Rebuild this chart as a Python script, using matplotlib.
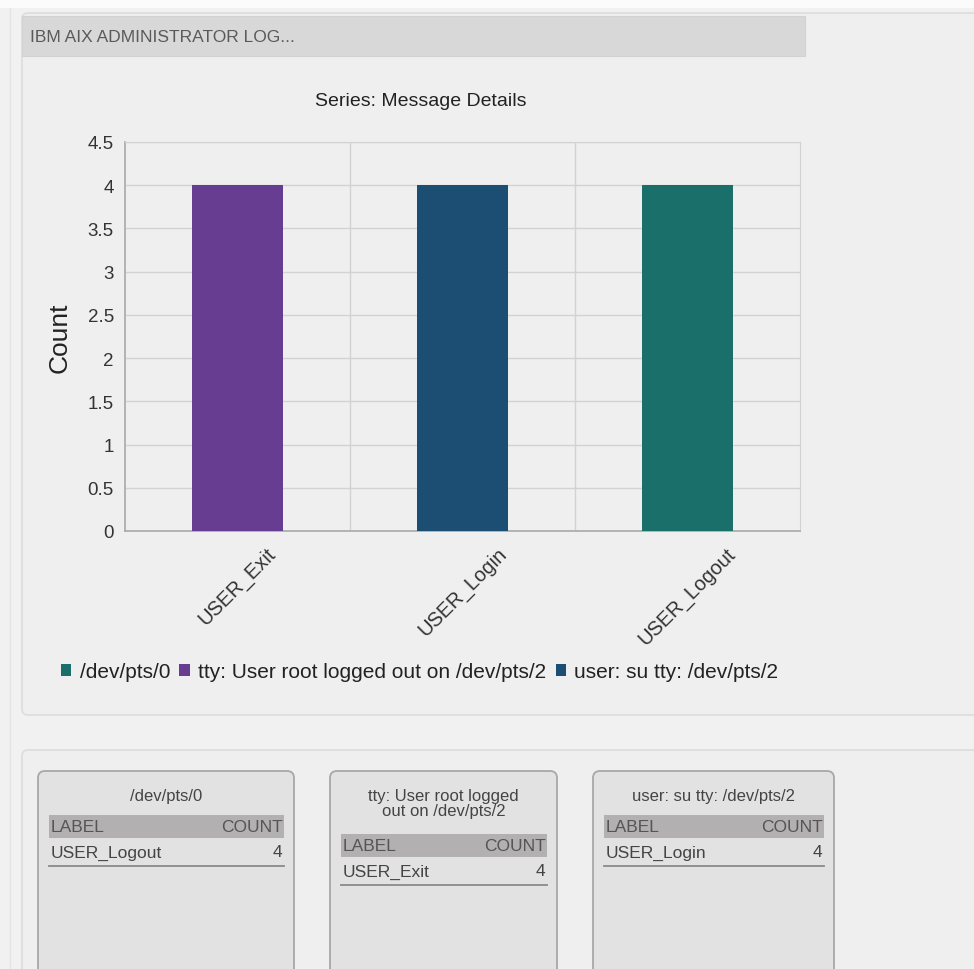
import matplotlib
matplotlib.use("Agg")
import matplotlib.pyplot as plt
from matplotlib.patches import FancyBboxPatch, Rectangle
from matplotlib.lines import Line2D

plt.rcParams["font.family"] = ["Liberation Sans", "DejaVu Sans"]

# ---- data -------------------------------------------------------------
categories = ["USER_Exit", "USER_Login", "USER_Logout"]
counts = [4, 4, 4]
series_names = ["/dev/pts/0",
                "tty: User root logged out on /dev/pts/2",
                "user: su tty: /dev/pts/2"]
series_colors = ["#1b6f6b", "#673d91", "#1c4e74"]
category_series = [1, 2, 0]          # series index of each category
y_ticks = [0, 0.5, 1, 1.5, 2, 2.5, 3, 3.5, 4, 4.5]
y_tick_labels = ["0", "0.5", "1", "1.5", "2", "2.5", "3", "3.5", "4", "4.5"]
card_titles = ["/dev/pts/0",
               "tty: User root logged\nout on /dev/pts/2",
               "user: su tty: /dev/pts/2"]
panel_title = "IBM AIX ADMINISTRATOR LOG..."
chart_title = "Series: Message Details"

W, H = 974, 970
fig = plt.figure(figsize=(W / 100, H / 100), dpi=100)
fig.patch.set_facecolor("#f1f1f1")

# ---- page decoration (pixel coordinates) ------------------------------
bg = fig.add_axes([0, 0, 1, 1], zorder=0)
bg.set_xlim(0, W)
bg.set_ylim(H, 0)
bg.axis("off")

bg.add_patch(Rectangle((0, 0), W, 9, facecolor="#fbfbfb", edgecolor="none"))
bg.add_line(Line2D([10, 10], [9, H], color="#e4e4e4", lw=1))
# upper panel
bg.add_patch(FancyBboxPatch((22, 14), W, 702, boxstyle="round,pad=0,rounding_size=6",
                            facecolor="#efefef", edgecolor="#dcdcdc", lw=1.2))
bg.add_patch(Rectangle((22, 17), 783, 40, facecolor="#d8d8d8", edgecolor="#d2d2d2", lw=0.8))
bg.text(30, 38, panel_title, fontsize=12.5, color="#5a5a5a", va="center", ha="left")
# lower panel
bg.add_patch(FancyBboxPatch((22, 751), W, 300, boxstyle="round,pad=0,rounding_size=6",
                            facecolor="#efefef", edgecolor="#dcdcdc", lw=1.2))

# ---- bar chart ---------------------------------------------------------
ax_l, ax_r, ax_t, ax_b = 125, 800, 143, 532
ax = fig.add_axes([ax_l / W, (H - ax_b) / H, (ax_r - ax_l) / W, (ax_b - ax_t) / H], zorder=2)
ax.set_facecolor("none")
x = list(range(len(categories)))
for i, val in enumerate(counts):
    ax.bar(i, val, width=0.405, color=series_colors[category_series[i]], zorder=3)
ax.set_xlim(-0.5, len(categories) - 0.5)
ax.set_ylim(0, 4.5)
ax.set_yticks(y_ticks)
ax.set_yticklabels(y_tick_labels)
ax.set_axisbelow(True)
ax.grid(axis="y", color="#d2d2d2", lw=1)
for b in [i + 0.5 for i in range(len(categories) - 1)]:
    ax.axvline(b, color="#d2d2d2", lw=1, zorder=1)
for side in ["top", "right"]:
    ax.spines[side].set_color("#d2d2d2")
for side in ["left", "bottom"]:
    ax.spines[side].set_color("#a9a9a9")
    ax.spines[side].set_linewidth(1.2)
ax.tick_params(axis="both", length=0, labelcolor="#333333")
ax.tick_params(axis="y", pad=8, labelsize=13.5)
ax.tick_params(axis="x", pad=9, labelsize=14.5)
ax.set_xticks(x)
ax.set_xticklabels(categories, rotation=45, ha="center", va="top")
ax.set_ylabel("Count", fontsize=19, color="#222222")
ax.yaxis.set_label_coords((72 - ax_l) / (ax_r - ax_l), 0.5)

fig.text(421 / W, (H - 102) / H, chart_title, fontsize=14, color="#222222",
         ha="center", va="center")

# legend
handles = [Rectangle((0, 0), 1, 1, facecolor=c, edgecolor="none") for c in series_colors]
fig.legend(handles, series_names, loc="center left", ncol=3, frameon=False,
           bbox_to_anchor=(42 / W, (H - 673) / H), fontsize=15,
           handlelength=0.5, handleheight=0.5, handletextpad=0.4,
           columnspacing=0.45, labelcolor="#222222")

# ---- summary cards -----------------------------------------------------
cards_x = [(38, 294), (330, 557), (593, 834)]
for (x0, x1), title, s in zip(cards_x, card_titles, range(len(series_names))):
    bg.add_patch(FancyBboxPatch((x0, 772), x1 - x0, 260,
                                boxstyle="round,pad=0,rounding_size=7",
                                facecolor="#e2e2e2", edgecolor="#a8a8a8", lw=1.3))
    n_lines = title.count("\n") + 1
    bg.text((x0 + x1) / 2, 789, title, fontsize=12, color="#444444",
            ha="center", va="top", linespacing=1.0)
    hy = 816 + (n_lines - 1) * 19
    bg.add_patch(Rectangle((x0 + 11, hy), x1 - x0 - 21, 23, facecolor="#b2b0b0",
                           edgecolor="none"))
    bg.text(x0 + 13, hy + 12, "LABEL", fontsize=12.5, color="#555555", va="center")
    bg.text(x1 - 11, hy + 12, "COUNT", fontsize=12.5, color="#555555", va="center",
            ha="right")
    idx = category_series.index(s)
    bg.text(x0 + 13, hy + 37, categories[idx], fontsize=12.5, color="#444444", va="center")
    bg.text(x1 - 12, hy + 37, str(counts[idx]), fontsize=12.5, color="#444444",
            va="center", ha="right")
    bg.add_line(Line2D([x0 + 11, x1 - 10], [hy + 51, hy + 51], color="#8a8a8a", lw=1.3))

fig.savefig("out.png", dpi=100, facecolor=fig.get_facecolor())
